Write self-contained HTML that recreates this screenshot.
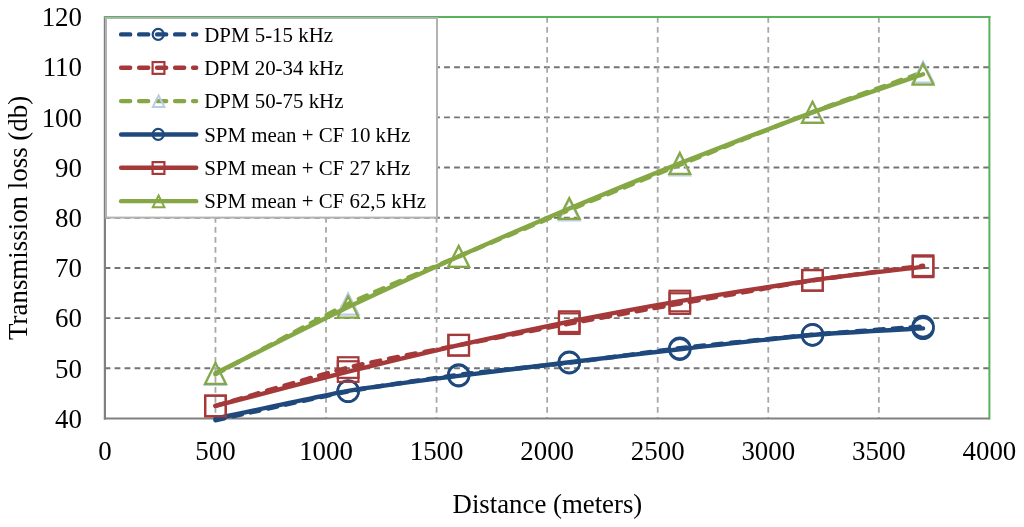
<!DOCTYPE html>
<html><head><meta charset="utf-8"><title>Transmission loss chart</title>
<style>
html,body{margin:0;padding:0;background:#fff;}
body{width:1024px;height:527px;overflow:hidden;position:relative;}
.t{font-family:"Liberation Serif","Times New Roman",serif;fill:#000;}
</style></head><body>
<svg width="1024" height="527" viewBox="0 0 1024 527" style="position:absolute;left:0;top:0">
<rect width="1024" height="527" fill="#fff"/>
<line x1="104.60" y1="368.31" x2="989.40" y2="368.31" stroke="#747474" stroke-width="1.9" stroke-dasharray="5.8,4.185"/>
<line x1="104.60" y1="318.12" x2="989.40" y2="318.12" stroke="#747474" stroke-width="1.9" stroke-dasharray="5.8,4.185"/>
<line x1="104.60" y1="267.94" x2="989.40" y2="267.94" stroke="#747474" stroke-width="1.9" stroke-dasharray="5.8,4.185"/>
<line x1="104.60" y1="217.75" x2="989.40" y2="217.75" stroke="#747474" stroke-width="1.9" stroke-dasharray="5.8,4.185"/>
<line x1="104.60" y1="167.56" x2="989.40" y2="167.56" stroke="#747474" stroke-width="1.9" stroke-dasharray="5.8,4.185"/>
<line x1="104.60" y1="117.38" x2="989.40" y2="117.38" stroke="#747474" stroke-width="1.9" stroke-dasharray="5.8,4.185"/>
<line x1="104.60" y1="67.19" x2="989.40" y2="67.19" stroke="#747474" stroke-width="1.9" stroke-dasharray="5.8,4.185"/>
<line x1="215.46" y1="17.00" x2="215.46" y2="418.50" stroke="#a8a8a8" stroke-width="1.8" stroke-dasharray="5.7,4.3"/>
<line x1="326.02" y1="17.00" x2="326.02" y2="418.50" stroke="#a8a8a8" stroke-width="1.8" stroke-dasharray="5.7,4.3"/>
<line x1="436.59" y1="17.00" x2="436.59" y2="418.50" stroke="#a8a8a8" stroke-width="1.8" stroke-dasharray="5.7,4.3"/>
<line x1="547.15" y1="17.00" x2="547.15" y2="418.50" stroke="#a8a8a8" stroke-width="1.8" stroke-dasharray="5.7,4.3"/>
<line x1="657.71" y1="17.00" x2="657.71" y2="418.50" stroke="#a8a8a8" stroke-width="1.8" stroke-dasharray="5.7,4.3"/>
<line x1="768.27" y1="17.00" x2="768.27" y2="418.50" stroke="#a8a8a8" stroke-width="1.8" stroke-dasharray="5.7,4.3"/>
<line x1="878.84" y1="17.00" x2="878.84" y2="418.50" stroke="#a8a8a8" stroke-width="1.8" stroke-dasharray="5.7,4.3"/>
<line x1="103.80" y1="17.10" x2="990.40" y2="17.10" stroke="#58b25b" stroke-width="2"/>
<line x1="989.40" y1="16.00" x2="989.40" y2="419.50" stroke="#58b25b" stroke-width="2"/>
<line x1="103.90" y1="418.50" x2="989.40" y2="418.50" stroke="#808080" stroke-width="2.2"/>
<line x1="104.90" y1="18.00" x2="104.90" y2="419.50" stroke="#808080" stroke-width="2.2"/>
<path d="M215.46,420.26 C228.73,417.37 323.81,395.94 348.14,391.40 C372.46,386.86 436.59,377.70 458.70,374.84 C480.81,371.98 547.15,365.45 569.26,362.79 C591.38,360.13 655.50,351.05 679.82,348.24 C704.15,345.43 788.18,336.86 812.50,334.69 C836.82,332.51 912.01,327.32 923.06,326.51" fill="none" stroke="#1f497d" stroke-width="4.4" stroke-linecap="round" stroke-dasharray="9.1,8.9"/>
<circle cx="348.14" cy="391.40" r="10.50" fill="none" stroke="#1f497d" stroke-width="2.40"/>
<circle cx="458.70" cy="374.84" r="10.50" fill="none" stroke="#1f497d" stroke-width="2.40"/>
<circle cx="569.26" cy="362.79" r="10.50" fill="none" stroke="#1f497d" stroke-width="2.40"/>
<circle cx="679.82" cy="348.24" r="10.50" fill="none" stroke="#1f497d" stroke-width="2.40"/>
<circle cx="812.50" cy="334.69" r="10.50" fill="none" stroke="#1f497d" stroke-width="2.40"/>
<circle cx="923.06" cy="326.51" r="10.50" fill="none" stroke="#1f497d" stroke-width="2.40"/>
<path d="M215.46,405.95 C228.73,402.11 323.81,373.63 348.14,367.56 C372.46,361.49 436.59,349.62 458.70,345.23 C480.81,340.83 547.15,327.81 569.26,323.65 C591.38,319.48 655.50,307.89 679.82,303.57 C704.15,299.25 788.18,284.27 812.50,280.48 C836.82,276.70 912.01,267.16 923.06,265.68" fill="none" stroke="#a5393a" stroke-width="4.4" stroke-linecap="round" stroke-dasharray="9.1,8.9"/>
<rect x="205.16" y="395.65" width="20.60" height="20.60" fill="none" stroke="#a5393a" stroke-width="2.20"/>
<rect x="337.84" y="357.26" width="20.60" height="20.60" fill="none" stroke="#a5393a" stroke-width="2.20"/>
<rect x="448.40" y="334.93" width="20.60" height="20.60" fill="none" stroke="#a5393a" stroke-width="2.20"/>
<rect x="558.96" y="313.35" width="20.60" height="20.60" fill="none" stroke="#a5393a" stroke-width="2.20"/>
<rect x="669.52" y="293.27" width="20.60" height="20.60" fill="none" stroke="#a5393a" stroke-width="2.20"/>
<rect x="802.20" y="270.18" width="20.60" height="20.60" fill="none" stroke="#a5393a" stroke-width="2.20"/>
<rect x="912.76" y="255.38" width="20.60" height="20.60" fill="none" stroke="#a5393a" stroke-width="2.20"/>
<path d="M215.46,374.34 C228.73,367.31 323.81,315.87 348.14,304.07 C372.46,292.28 436.59,265.80 458.70,256.39 C480.81,246.98 547.15,219.13 569.26,209.97 C591.38,200.81 655.50,174.59 679.82,164.80 C704.15,155.02 788.18,121.36 812.50,112.11 C836.82,102.85 912.01,76.20 923.06,72.21" fill="none" stroke="#85a845" stroke-width="4.4" stroke-linecap="round" stroke-dasharray="9.1,8.9"/>
<path d="M215.46,363.84 L225.96,384.84 L204.96,384.84 Z" fill="none" stroke="#b9cde5" stroke-width="2.20" stroke-linejoin="miter"/>
<path d="M348.14,293.57 L358.64,314.57 L337.64,314.57 Z" fill="none" stroke="#b9cde5" stroke-width="2.20" stroke-linejoin="miter"/>
<path d="M458.70,245.89 L469.20,266.89 L448.20,266.89 Z" fill="none" stroke="#b9cde5" stroke-width="2.20" stroke-linejoin="miter"/>
<path d="M569.26,199.47 L579.76,220.47 L558.76,220.47 Z" fill="none" stroke="#b9cde5" stroke-width="2.20" stroke-linejoin="miter"/>
<path d="M679.82,154.30 L690.32,175.30 L669.32,175.30 Z" fill="none" stroke="#b9cde5" stroke-width="2.20" stroke-linejoin="miter"/>
<path d="M812.50,101.61 L823.00,122.61 L802.00,122.61 Z" fill="none" stroke="#b9cde5" stroke-width="2.20" stroke-linejoin="miter"/>
<path d="M923.06,61.71 L933.56,82.71 L912.56,82.71 Z" fill="none" stroke="#b9cde5" stroke-width="2.20" stroke-linejoin="miter"/>
<path d="M215.46,418.75 C228.73,415.97 323.81,395.19 348.14,390.90 C372.46,386.61 436.59,378.70 458.70,375.84 C480.81,372.98 547.15,364.95 569.26,362.29 C591.38,359.63 655.50,351.98 679.82,349.24 C704.15,346.51 788.18,337.02 812.50,334.94 C836.82,332.86 912.01,329.07 923.06,328.41" fill="none" stroke="#1f497d" stroke-width="4.4" stroke-linecap="round"/>
<circle cx="348.14" cy="390.90" r="10.50" fill="none" stroke="#1f497d" stroke-width="2.40"/>
<circle cx="458.70" cy="375.84" r="10.50" fill="none" stroke="#1f497d" stroke-width="2.40"/>
<circle cx="569.26" cy="362.29" r="10.50" fill="none" stroke="#1f497d" stroke-width="2.40"/>
<circle cx="679.82" cy="349.24" r="10.50" fill="none" stroke="#1f497d" stroke-width="2.40"/>
<circle cx="812.50" cy="334.94" r="10.50" fill="none" stroke="#1f497d" stroke-width="2.40"/>
<circle cx="923.06" cy="328.41" r="10.50" fill="none" stroke="#1f497d" stroke-width="2.40"/>
<path d="M215.46,405.95 C228.73,402.52 323.81,377.65 348.14,371.57 C372.46,365.50 436.59,350.22 458.70,345.23 C480.81,340.23 547.15,326.05 569.26,321.64 C591.38,317.22 655.50,305.20 679.82,301.06 C704.15,296.92 788.18,283.66 812.50,280.23 C836.82,276.81 912.01,268.17 923.06,266.83" fill="none" stroke="#a5393a" stroke-width="4.4" stroke-linecap="round"/>
<rect x="205.16" y="395.65" width="20.60" height="20.60" fill="none" stroke="#a5393a" stroke-width="2.20"/>
<rect x="337.84" y="361.27" width="20.60" height="20.60" fill="none" stroke="#a5393a" stroke-width="2.20"/>
<rect x="448.40" y="334.93" width="20.60" height="20.60" fill="none" stroke="#a5393a" stroke-width="2.20"/>
<rect x="558.96" y="311.34" width="20.60" height="20.60" fill="none" stroke="#a5393a" stroke-width="2.20"/>
<rect x="669.52" y="290.76" width="20.60" height="20.60" fill="none" stroke="#a5393a" stroke-width="2.20"/>
<rect x="802.20" y="269.93" width="20.60" height="20.60" fill="none" stroke="#a5393a" stroke-width="2.20"/>
<rect x="912.76" y="256.53" width="20.60" height="20.60" fill="none" stroke="#a5393a" stroke-width="2.20"/>
<path d="M215.46,373.33 C228.73,366.71 323.81,318.78 348.14,307.08 C372.46,295.39 436.59,266.26 458.70,256.39 C480.81,246.53 547.15,217.78 569.26,208.47 C591.38,199.16 655.50,172.91 679.82,163.30 C704.15,153.69 788.18,121.26 812.50,112.36 C836.82,103.45 912.01,78.03 923.06,74.21" fill="none" stroke="#85a845" stroke-width="4.4" stroke-linecap="round"/>
<path d="M215.46,362.83 L225.96,383.83 L204.96,383.83 Z" fill="none" stroke="#85a845" stroke-width="2.20" stroke-linejoin="miter"/>
<path d="M348.14,296.58 L358.64,317.58 L337.64,317.58 Z" fill="none" stroke="#85a845" stroke-width="2.20" stroke-linejoin="miter"/>
<path d="M458.70,245.89 L469.20,266.89 L448.20,266.89 Z" fill="none" stroke="#85a845" stroke-width="2.20" stroke-linejoin="miter"/>
<path d="M569.26,197.97 L579.76,218.97 L558.76,218.97 Z" fill="none" stroke="#85a845" stroke-width="2.20" stroke-linejoin="miter"/>
<path d="M679.82,152.80 L690.32,173.80 L669.32,173.80 Z" fill="none" stroke="#85a845" stroke-width="2.20" stroke-linejoin="miter"/>
<path d="M812.50,101.86 L823.00,122.86 L802.00,122.86 Z" fill="none" stroke="#85a845" stroke-width="2.20" stroke-linejoin="miter"/>
<path d="M923.06,63.71 L933.56,84.71 L912.56,84.71 Z" fill="none" stroke="#85a845" stroke-width="2.20" stroke-linejoin="miter"/>
<rect x="106.00" y="18.00" width="331.00" height="199.60" fill="#fff" stroke="#b2b2b2" stroke-width="2"/>
<line x1="121.1" y1="34.40" x2="196.2" y2="34.40" stroke="#1f497d" stroke-width="4.4" stroke-linecap="round" stroke-dasharray="9.1,8.9"/>
<circle cx="158.20" cy="34.40" r="5.50" fill="none" stroke="#1f497d" stroke-width="2.20"/>
<text x="204.2" y="41.60" font-size="20.9" class="t">DPM 5-15 kHz</text>
<line x1="121.1" y1="67.75" x2="196.2" y2="67.75" stroke="#a5393a" stroke-width="4.4" stroke-linecap="round" stroke-dasharray="9.1,8.9"/>
<rect x="152.60" y="62.05" width="11.80" height="11.80" fill="none" stroke="#a5393a" stroke-width="2.20"/>
<text x="204.2" y="74.95" font-size="20.9" class="t">DPM 20-34 kHz</text>
<line x1="121.1" y1="101.10" x2="196.2" y2="101.10" stroke="#85a845" stroke-width="4.4" stroke-linecap="round" stroke-dasharray="9.1,8.9"/>
<path d="M158.60,95.50 L164.40,107.10 L152.80,107.10 Z" fill="none" stroke="#b9cde5" stroke-width="2.00" stroke-linejoin="miter"/>
<text x="204.2" y="108.30" font-size="20.9" class="t">DPM 50-75 kHz</text>
<line x1="121.1" y1="134.45" x2="196.2" y2="134.45" stroke="#1f497d" stroke-width="4.4" stroke-linecap="round"/>
<circle cx="158.20" cy="134.45" r="5.50" fill="none" stroke="#1f497d" stroke-width="2.20"/>
<text x="204.2" y="141.65" font-size="20.9" class="t">SPM mean + CF 10 kHz</text>
<line x1="121.1" y1="167.80" x2="196.2" y2="167.80" stroke="#a5393a" stroke-width="4.4" stroke-linecap="round"/>
<rect x="152.60" y="162.10" width="11.80" height="11.80" fill="none" stroke="#a5393a" stroke-width="2.20"/>
<text x="204.2" y="175.00" font-size="20.9" class="t">SPM mean + CF 27 kHz</text>
<line x1="121.1" y1="201.15" x2="196.2" y2="201.15" stroke="#85a845" stroke-width="4.4" stroke-linecap="round"/>
<path d="M158.60,195.55 L164.40,207.15 L152.80,207.15 Z" fill="none" stroke="#85a845" stroke-width="2.00" stroke-linejoin="miter"/>
<text x="204.2" y="208.35" font-size="20.9" class="t">SPM mean + CF 62,5 kHz</text>
<text x="82" y="427.80" font-size="26.9" text-anchor="end" class="t">40</text>
<text x="82" y="377.61" font-size="26.9" text-anchor="end" class="t">50</text>
<text x="82" y="327.43" font-size="26.9" text-anchor="end" class="t">60</text>
<text x="82" y="277.24" font-size="26.9" text-anchor="end" class="t">70</text>
<text x="82" y="227.05" font-size="26.9" text-anchor="end" class="t">80</text>
<text x="82" y="176.86" font-size="26.9" text-anchor="end" class="t">90</text>
<text x="82" y="126.67" font-size="26.9" text-anchor="end" class="t">100</text>
<text x="82" y="76.49" font-size="26.9" text-anchor="end" class="t">110</text>
<text x="82" y="26.30" font-size="26.9" text-anchor="end" class="t">120</text>
<text x="104.90" y="459.8" font-size="26.9" text-anchor="middle" class="t">0</text>
<text x="215.46" y="459.8" font-size="26.9" text-anchor="middle" class="t">500</text>
<text x="326.02" y="459.8" font-size="26.9" text-anchor="middle" class="t">1000</text>
<text x="436.59" y="459.8" font-size="26.9" text-anchor="middle" class="t">1500</text>
<text x="547.15" y="459.8" font-size="26.9" text-anchor="middle" class="t">2000</text>
<text x="657.71" y="459.8" font-size="26.9" text-anchor="middle" class="t">2500</text>
<text x="768.27" y="459.8" font-size="26.9" text-anchor="middle" class="t">3000</text>
<text x="878.84" y="459.8" font-size="26.9" text-anchor="middle" class="t">3500</text>
<text x="989.40" y="459.8" font-size="26.9" text-anchor="middle" class="t">4000</text>
<text x="547.4" y="512.7" font-size="26.8" text-anchor="middle" class="t">Distance (meters)</text>
<text transform="translate(26.8,217.9) rotate(-90)" font-size="26.9" text-anchor="middle" class="t">Transmission loss (db)</text>
</svg>
</body></html>
